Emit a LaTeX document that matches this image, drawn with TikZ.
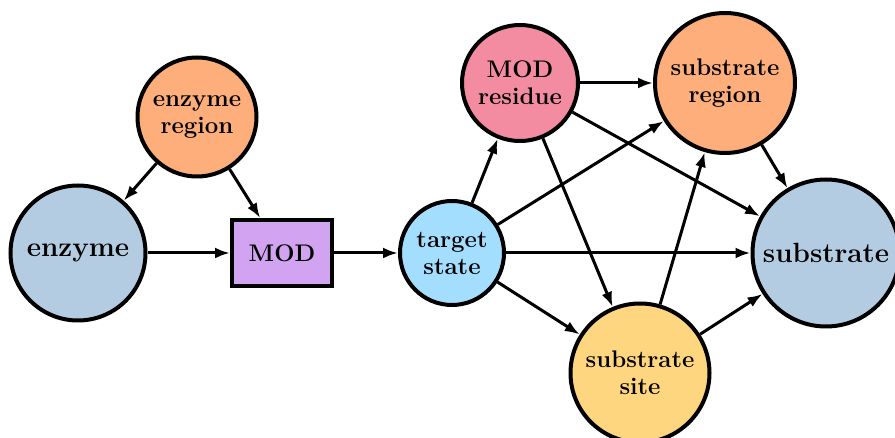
\documentclass[tikz,border=0pt]{standalone}
\usepackage{xcolor}
\usepackage{tikz}
\usetikzlibrary{arrows.meta}
\definecolor{modBlueGray}{HTML}{B4CCE2}
\definecolor{modOrange}{HTML}{FDAE7B}
\definecolor{modPurple}{HTML}{D1A3F1}
\definecolor{modSky}{HTML}{A4DEFF}
\definecolor{modPink}{HTML}{F48CA1}
\definecolor{modYellow}{HTML}{FFD680}
\tikzset{
  link/.style={-{Latex[length=7.5pt, width=5.5pt]}, line width=1.5pt, draw=black},
  entity/.style={circle, draw=black, line width=2pt, align=center,
    inner sep=0pt, font=\bfseries\fontsize{12}{13.5}\selectfont},
  big entity/.style={entity, font=\bfseries\fontsize{13.9}{16}\selectfont},
  mod box/.style={rectangle, draw=black, line width=2pt, fill=modPurple,
    minimum width=50pt, minimum height=33pt,
    font=\bfseries\fontsize{12}{13.5}\selectfont}
}
\begin{document}
\begin{tikzpicture}[x=0.5pt, y=-0.5pt]
  \useasboundingbox (0,0) rectangle (895,438);
  % left part
  \node[big entity, fill=modBlueGray, minimum size=67.5pt] (enzyme) at (78,253) {enzyme};
  \node[entity, fill=modOrange, minimum size=59.5pt] (enzregion) at (197,117) {enzyme\\region};
  \node[mod box] (mod) at (282,253) {MOD};
  % right part
  \node[entity, fill=modSky, minimum size=52pt] (target) at (452,253) {target\\state};
  \node[entity, fill=modPink, minimum size=58pt] (residue) at (520,83) {MOD\\residue};
  \node[entity, fill=modOrange, minimum size=70pt] (subregion) at (725,83) {substrate\\region};
  \node[big entity, fill=modBlueGray, minimum size=73.5pt] (substrate) at (826,253) {substrate};
  \node[entity, fill=modYellow, minimum size=69.5pt] (subsite) at (640,373) {substrate\\site};
  \draw[link] (enzregion) -- (enzyme);
  \draw[link] (enzregion) -- (mod);
  \draw[link] (enzyme) -- (mod);
  \draw[link] (mod) -- (target);
  \draw[link] (target) -- (residue);
  \draw[link] (target) -- (subregion);
  \draw[link] (target) -- (substrate);
  \draw[link] (target) -- (subsite);
  \draw[link] (residue) -- (subregion);
  \draw[link] (residue) -- (substrate);
  \draw[link] (residue) -- (subsite);
  \draw[link] (subregion) -- (substrate);
  \draw[link] (subsite) -- (subregion);
  \draw[link] (subsite) -- (substrate);
\end{tikzpicture}
\end{document}
